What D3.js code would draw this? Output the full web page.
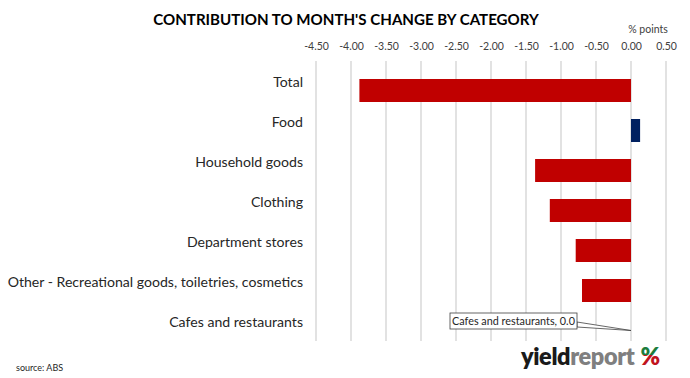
<!DOCTYPE html>
<html><head><meta charset="utf-8">
<script src="https://cdn.jsdelivr.net/npm/d3@7"></script>
<style>
html,body{margin:0;padding:0;background:#fff;}
svg{display:block;}
text{font-family:Lato,"Open Sans",sans-serif;}
</style></head>
<body>
<svg id="chart" width="690" height="378"></svg>
<script>
const categories = ["Total","Food","Household goods","Clothing","Department stores","Other - Recreational goods, toiletries, cosmetics","Cafes and restaurants"];
const values = [-3.88, 0.13, -1.37, -1.16, -0.79, -0.70, 0.0];
const tickValues = [-4.5,-4.0,-3.5,-3.0,-2.5,-2.0,-1.5,-1.0,-0.5,0.0,0.5];
const calloutLabel = "Cafes and restaurants, 0.0";

const svg = d3.select("#chart");
const x = d3.scaleLinear().domain([-4.5, 0.5]).range([316, 666]);
const y = d3.scaleBand().domain(categories).range([61, 341]).paddingInner(0).paddingOuter(0);

// title
svg.append("text").attr("x", 346).attr("y", 25).attr("text-anchor","middle")
  .attr("font-size", 15.1).attr("font-weight", 700).attr("fill","#000")
  .text("CONTRIBUTION TO MONTH'S CHANGE BY CATEGORY");

svg.append("text").attr("x", 648).attr("y", 33).attr("text-anchor","middle")
  .attr("font-size", 10.5).attr("fill","#404040").text("% points");

// gridlines
svg.append("g").selectAll("line").data(tickValues).join("line")
  .attr("x1", d=>x(d)).attr("x2", d=>x(d)).attr("y1", 61).attr("y2", 341)
  .attr("stroke","#d9d9d9").attr("stroke-width",1.5);

// top axis labels
const axis = d3.axisTop(x).tickValues(tickValues).tickFormat(d=>d.toFixed(2)).tickSize(0).tickPadding(0);
const ag = svg.append("g").attr("transform","translate(0,50)").call(axis);
ag.select(".domain").remove();
ag.selectAll("text").attr("font-size",10.5).attr("fill","#404040").attr("font-family","Lato,'Open Sans',sans-serif");

// bars
svg.append("g").selectAll("rect").data(categories).join("rect")
  .attr("x", (c,i)=>x(Math.min(0, values[i])))
  .attr("width", (c,i)=>Math.abs(x(values[i]) - x(0)))
  .attr("y", c=>y(c)+18).attr("height", 23)
  .attr("fill", (c,i)=>values[i] >= 0 ? "#002060" : "#C00000");

// category labels
svg.append("g").selectAll("text").data(categories).join("text")
  .attr("x", 303).attr("y", c=>y(c)+21).attr("dy","0.35em")
  .attr("text-anchor","end").attr("font-size",14.1).attr("fill","#262626")
  .text(d=>d);

// callout for Cafes
const ci = categories.length-1;
const ax = x(values[ci]), ay = y(categories[ci]) + 18 + 11.5;
const bx0 = 450, bx1 = 577, by0 = 313, by1 = 329;
svg.append("path")
  .attr("d", `M${bx1},${by0+9}L${ax},${ay}L${bx1},${by0+14}Z`)
  .attr("fill","#fff").attr("stroke","#404040").attr("stroke-width",0.8);
svg.append("rect").attr("x",bx0).attr("y",by0).attr("width",bx1-bx0).attr("height",by1-by0)
  .attr("fill","#fff").attr("stroke","#404040").attr("stroke-width",0.8);
svg.append("text").attr("x",(bx0+bx1)/2).attr("y",(by0+by1)/2).attr("dy","0.35em")
  .attr("text-anchor","middle").attr("font-size",10.8).attr("fill","#262626").text(calloutLabel);

// source
svg.append("text").attr("x",16).attr("y",371).attr("font-size",9).attr("fill","#262626").text("source: ABS");

// logo
const defs = svg.append("defs");
const gr = defs.append("linearGradient").attr("id","pct").attr("x1",0).attr("y1",0).attr("x2",0).attr("y2",1);
gr.append("stop").attr("offset","0%").attr("stop-color","#1e7b3c");
gr.append("stop").attr("offset","45%").attr("stop-color","#1e7b3c");
gr.append("stop").attr("offset","45%").attr("stop-color","#c0141e");
gr.append("stop").attr("offset","100%").attr("stop-color","#c0141e");
const logo = svg.append("text").attr("x",521).attr("y",365).attr("font-size",23.5).attr("font-weight",800)
  .attr("font-family","'Open Sans',sans-serif").attr("letter-spacing","-0.4");
logo.append("tspan").attr("fill","#1a1a1a").text("yield");
logo.append("tspan").attr("fill","#7f7f7f").text("report");
logo.append("tspan").attr("fill","url(#pct)").attr("dx",6).text("%");
</script>
</body></html>
